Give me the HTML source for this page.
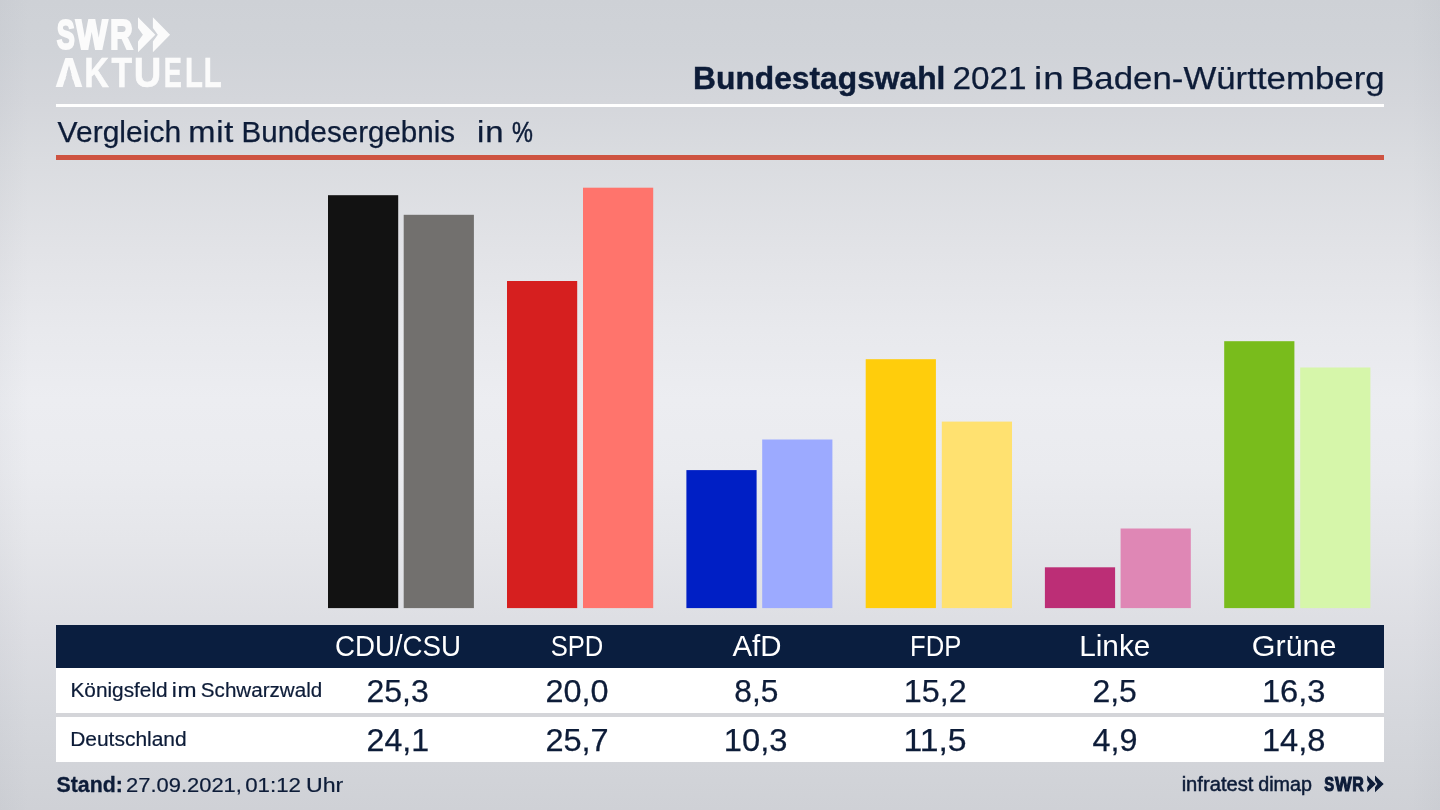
<!DOCTYPE html>
<html lang="de">
<head>
<meta charset="utf-8">
<title>Bundestagswahl 2021 in Baden-Württemberg – Vergleich mit Bundesergebnis</title>
<style>
html,body{margin:0;padding:0;}
body{width:1440px;height:810px;overflow:hidden;background:#dcdde2;font-family:"Liberation Sans",sans-serif;}
#stage{position:relative;width:1440px;height:810px;overflow:hidden;color:#0d1c38;
 background:
  linear-gradient(to right, rgba(140,145,158,0.06) 0px, rgba(140,145,158,0) 28px, rgba(140,145,158,0) 1412px, rgba(140,145,158,0.06) 1440px),
  linear-gradient(to bottom, #ced1d6 0px, #d0d3d8 50px, #d4d6db 100px, #dadce0 160px, #e2e3e7 250px, #e8e9ed 330px, #ecedf1 400px, #eaebef 470px, #e5e6ea 540px, #dddee3 630px, #d6d8dd 710px, #d2d4d9 765px, #cfd1d6 810px);}
.t{position:absolute;white-space:nowrap;line-height:1;margin:0;padding:0;font-weight:400;}
.l{display:inline-block;transform-origin:0 0;}
.r,svg{position:absolute;}
h1,h2,p{margin:0;}
</style>
</head>
<body>
<div id="stage">

<div id="logo" aria-label="SWR AKTUELL">
<div class="t" id="lg1" style="left:50px;top:14.05px;font-size:42.0px;font-weight:700;color:#fbfbfb;-webkit-text-stroke:2.2px #fbfbfb;"><span class="l" id="lg10" style="transform:translateX(6.63px) scaleX(0.6456)">S</span><span class="l" id="lg11" style="transform:translateX(-2.16px) scaleX(0.8051)">W</span><span class="l" id="lg12" style="transform:translateX(-8.07px) scaleX(0.7525)">R</span></div>
<svg style="left:137px;top:16px" width="36" height="38" viewBox="137 16 36 38"><path d="M138 17.2 L155.3 34.7 L138 52.2 L138 41.4 L142.9 34.7 L138 28 Z" fill="#fbfbfb"/><path d="M152.9 17.2 L170.1 34.7 L152.9 52.2 L152.9 41.4 L157.8 34.7 L152.9 28 Z" fill="#fbfbfb"/></svg>
<div class="t" id="lg2" style="left:50px;top:51.92px;font-size:41.8px;font-weight:700;color:#fbfbfb;-webkit-text-stroke:0.6px #fbfbfb;clip-path:polygon(-50.0px -51.9px,250.0px -51.9px,250.0px 68.1px,25.0px 68.1px,25.0px 36.1px,19.0px 13.1px,13.0px 36.1px,13.0px 68.1px,-50.0px 68.1px);"><span class="l" id="lg20" style="font-size:39.4px;-webkit-text-stroke-width:1.8px;transform:translate(6.02px,-1px) scaleX(0.9157)">A</span><span class="l" id="lg21" style="transform:translateX(6.32px) scaleX(0.8145)">K</span><span class="l" id="lg22" style="transform:translateX(2.40px) scaleX(0.8076)">T</span><span class="l" id="lg23" style="transform:translateX(-0.17px) scaleX(0.9125)">U</span><span class="l" id="lg24" style="transform:translateX(-0.31px) scaleX(0.6493)">E</span><span class="l" id="lg25" style="transform:translateX(-7.07px) scaleX(0.7007)">L</span><span class="l" id="lg26" style="transform:translateX(-14.35px) scaleX(0.7029)">L</span></div>
</div>
<h1 class="t" id="ti" style="left:695px;top:61.74px;font-size:32.2px;-webkit-text-stroke:0.25px #0d1c38;"><span class="l" id="ti0" style="font-weight:700;-webkit-text-stroke-width:0.45px;transform:translateX(-1.93px) scaleX(0.9867)">Bundestagswahl</span> <span class="l" id="ti1" style="transform:translateX(-7.45px) scaleX(1.0347)">2021</span> <span class="l" id="ti2" style="letter-spacing:0.9px;transform:translateX(-6.04px) scaleX(1.1420)">in</span> <span class="l" id="ti3" style="transform:translateX(-4.90px) scaleX(1.0818)">Baden-Württemberg</span></h1>
<div class="r" style="left:56px;top:104px;width:1328px;height:3px;background:#fff"></div>
<h2 class="t" id="su" style="left:57px;top:117.98px;font-size:29.2px;-webkit-text-stroke:0.25px #0d1c38;"><span class="l" id="su0" style="transform:translateX(0.56px) scaleX(1.0292)">Vergleich</span> <span class="l" id="su1" style="letter-spacing:0.7px;transform:translateX(3.33px) scaleX(1.1191)">mit</span> <span class="l" id="su2" style="transform:translateX(7.51px) scaleX(1.0122)">Bundesergebnis</span> <span class="l" id="su3" style="letter-spacing:0.8px;transform:translateX(24.09px) scaleX(1.1261)">in</span> <span class="l" id="su4" style="-webkit-text-stroke-width:0.5px;transform:translateX(26.07px) scaleX(0.8045)">%</span></h2>
<div class="r" style="left:56px;top:155px;width:1328px;height:5px;background:#ce5341"></div>
<svg id="chart" style="left:0;top:0" width="1440" height="620" viewBox="0 0 1440 620">
<rect x="328.0" y="195.2" width="70.2" height="412.9" fill="#121212"/><rect x="403.7" y="214.8" width="70.2" height="393.3" fill="#72706e"/>
<rect x="507.0" y="281.0" width="70.2" height="327.1" fill="#d61f1f"/><rect x="583.0" y="187.7" width="70.2" height="420.4" fill="#ff746c"/>
<rect x="686.4" y="470.1" width="70.2" height="138.0" fill="#001fc5"/><rect x="762.2" y="439.5" width="70.2" height="168.6" fill="#9caaff"/>
<rect x="865.7" y="359.2" width="70.2" height="248.9" fill="#ffcd0c"/><rect x="941.8" y="421.6" width="70.2" height="186.5" fill="#ffe170"/>
<rect x="1044.9" y="567.3" width="70.2" height="40.8" fill="#bc2e76"/><rect x="1120.6" y="528.5" width="70.2" height="79.6" fill="#df87b5"/>
<rect x="1224.2" y="341.2" width="70.2" height="266.9" fill="#79bc1c"/><rect x="1300.2" y="367.5" width="70.2" height="240.6" fill="#d6f6aa"/>
</svg>
<div id="table">
<div class="r" style="left:56px;top:625.2px;width:1328px;height:42.8px;background:#0a1e3f"></div>
<div class="r" style="left:56px;top:668px;width:1328px;height:45px;background:#fff"></div>
<div class="r" style="left:56px;top:713px;width:1328px;height:4px;background:#d4d5d9"></div>
<div class="r" style="left:56px;top:717px;width:1328px;height:45px;background:#fff"></div>
<div class="t" id="h" style="left:336px;top:632.39px;font-size:28.6px;color:#fff;"><span class="l" id="h0" style="transform:translateX(-1.11px) scaleX(0.9683)">CDU/CSU</span> <span class="l" id="h1" style="transform:translateX(76.63px) scaleX(0.8950)">SPD</span> <span class="l" id="h2" style="transform:translateX(191.42px) scaleX(1.0290)">AfD</span> <span class="l" id="h3" style="transform:translateX(313.07px) scaleX(0.8956)">FDP</span> <span class="l" id="h4" style="transform:translateX(417.15px) scaleX(1.0416)">Linke</span> <span class="l" id="h5" style="transform:translateX(513.77px) scaleX(1.0660)">Grüne</span></div>
<div class="t" id="r1" style="left:72px;top:680.78px;font-size:19.4px;-webkit-text-stroke:0.2px #0d1c38;"><span class="l" id="r10" style="transform:translateX(-1.56px) scaleX(1.0731)">Königsfeld</span> <span class="l" id="r11" style="letter-spacing:0.5px;transform:translateX(3.74px) scaleX(1.1763)">im</span> <span class="l" id="r12" style="transform:translateX(5.84px) scaleX(1.0622)">Schwarzwald</span></div>
<div class="t" id="a" style="left:366px;top:676.10px;font-size:30.6px;-webkit-text-stroke:0.25px #0d1c38;"><span class="l" id="a0" style="transform:translateX(0.41px) scaleX(1.0462)">25,3</span> <span class="l" id="a1" style="transform:translateX(111.49px) scaleX(1.0604)">20,0</span> <span class="l" id="a2" style="transform:translateX(232.30px) scaleX(1.0350)">8,5</span> <span class="l" id="a3" style="transform:translateX(350.75px) scaleX(1.0566)">15,2</span> <span class="l" id="a4" style="transform:translateX(471.43px) scaleX(1.0444)">2,5</span> <span class="l" id="a5" style="transform:translateX(589.90px) scaleX(1.0684)">16,3</span></div>
<div class="t" id="r2" style="left:72px;top:729.98px;font-size:19.4px;-webkit-text-stroke:0.2px #0d1c38;"><span class="l" id="r20" style="transform:translateX(-1.84px) scaleX(1.0807)">Deutschland</span></div>
<div class="t" id="b" style="left:366px;top:725.30px;font-size:30.6px;-webkit-text-stroke:0.25px #0d1c38;"><span class="l" id="b0" style="transform:translateX(0.62px) scaleX(1.0504)">24,1</span> <span class="l" id="b1" style="transform:translateX(111.38px) scaleX(1.0638)">25,7</span> <span class="l" id="b2" style="transform:translateX(221.78px) scaleX(1.0695)">10,3</span> <span class="l" id="b3" style="transform:translateX(333.42px) scaleX(1.1026)">11,5</span> <span class="l" id="b4" style="transform:translateX(456.48px) scaleX(1.0575)">4,9</span> <span class="l" id="b5" style="transform:translateX(574.96px) scaleX(1.0662)">14,8</span></div>
</div>
<div id="footer">
<p class="t" id="fd" style="left:57px;top:774.45px;font-size:21.2px;-webkit-text-stroke:0.2px #0d1c38;"><span class="l" id="fd0" style="font-weight:700;-webkit-text-stroke-width:0.3px;transform:translateX(-0.48px) scaleX(1.0059)">Stand:</span> <span class="l" id="fd1" style="font-size:20.8px;transform:translateX(-3.00px) scaleX(1.0549)">27.09.2021,</span> <span class="l" id="fd2" style="font-size:20.8px;transform:translateX(0.19px) scaleX(1.0717)">01:12</span> <span class="l" id="fd3" style="font-size:20.8px;transform:translateX(2.96px) scaleX(1.1114)">Uhr</span></p>
<div class="t" id="fi" style="left:1182px;top:773.99px;font-size:20.8px;-webkit-text-stroke:0.5px #0d1c38;"><span class="l" id="fi0" style="transform:translateX(-0.37px) scaleX(0.9704)">infratest</span> <span class="l" id="fi1" style="transform:translateX(-3.78px) scaleX(0.9484)">dimap</span></div>
<div class="t" id="lg3" style="left:1320px;top:774.00px;font-size:20.2px;font-weight:700;-webkit-text-stroke:1.1px #0d1c38;"><span class="l" id="lg30" style="transform:translateX(4.15px) scaleX(0.7299)">S</span><span class="l" id="lg31" style="transform:translateX(1.92px) scaleX(0.8759)">W</span><span class="l" id="lg32" style="transform:translateX(-0.64px) scaleX(0.7927)">R</span></div>
<svg style="left:1366px;top:775px" width="19" height="18" viewBox="1366 775 19 18"><path d="M1367.2 775.5 L1375.8 783.9 L1367.2 792.3 L1367.2 787.2 L1369.6 783.9 L1367.2 780.6 Z" fill="#0d1c38"/><path d="M1375.0 775.5 L1383.7 783.9 L1375.0 792.3 L1375.0 787.2 L1377.4 783.9 L1375.0 780.6 Z" fill="#0d1c38"/></svg>
</div>
</div>
</body>
</html>
